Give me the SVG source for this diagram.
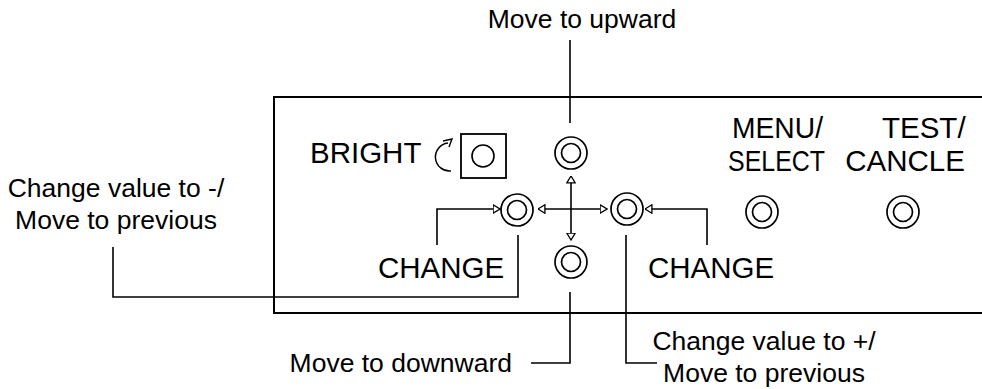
<svg xmlns="http://www.w3.org/2000/svg" width="982" height="389" viewBox="0 0 982 389">
<style>
.t{font-family:"Liberation Sans",Arial,sans-serif;fill:#000}
.m{font-size:26.5px}
.u{font-size:29.5px}
.ln{fill:none;stroke:#000;stroke-width:1.6}
.btn circle{fill:#fff;stroke:#000;stroke-width:1.7}
</style>
<defs>
<marker id="ah" viewBox="0 0 8 10" refX="7.5" refY="5" markerWidth="8" markerHeight="10" markerUnits="userSpaceOnUse" orient="auto-start-reverse">
<path d="M0.6,0.8 L7.5,5 L0.6,9.2 Z" fill="#fff" stroke="#000" stroke-width="1.3"/>
</marker>
</defs>
<rect width="982" height="389" fill="#fff"/>
<g id="panel">
<path d="M990 97 H274 V313 H990" fill="none" stroke="#000" stroke-width="2"/>
</g>
<g id="connectors">
<path class="ln" d="M570 40 V123"/>
<path class="ln" d="M113 247 V297 H518 V235"/>
<path class="ln" d="M570 292 V363 H531"/>
<path class="ln" d="M626 235 V363 H657"/>
<path class="ln" d="M571 176 V240" marker-start="url(#ah)" marker-end="url(#ah)"/>
<path class="ln" d="M538 209 H607" marker-start="url(#ah)" marker-end="url(#ah)"/>
<path class="ln" d="M437 245 V209 H500" marker-end="url(#ah)"/>
<path class="ln" d="M707 245 V209 H645" marker-end="url(#ah)"/>
</g>
<g id="btn-up" class="btn"><circle cx="571" cy="153" r="16"/><circle cx="571" cy="153" r="9.5"/></g>
<g id="btn-left" class="btn"><circle cx="517" cy="210" r="16"/><circle cx="517" cy="210" r="9.5"/></g>
<g id="btn-right" class="btn"><circle cx="627" cy="209" r="16"/><circle cx="627" cy="209" r="9.5"/></g>
<g id="btn-down" class="btn"><circle cx="571" cy="262" r="16"/><circle cx="571" cy="262" r="9.5"/></g>
<g id="btn-menu" class="btn"><circle cx="762" cy="212" r="16"/><circle cx="762" cy="212" r="9.5"/></g>
<g id="btn-test" class="btn"><circle cx="903" cy="212" r="16"/><circle cx="903" cy="212" r="9.5"/></g>
<g id="bright">
<text class="t u" x="310" y="163">BRIGHT</text>
<path d="M448 143 A14 14 0 0 0 451 171" fill="none" stroke="#000" stroke-width="1.5"/>
<path d="M443 141 L452 139 L449 147" fill="none" stroke="#000" stroke-width="1.4"/>
<rect x="461" y="134" width="45" height="44" fill="none" stroke="#000" stroke-width="1.8"/>
<circle cx="483" cy="156" r="11" fill="none" stroke="#000" stroke-width="1.6"/>
</g>
<g id="labels">
<text class="t m" x="582" y="28" text-anchor="middle">Move to upward</text>
<text class="t m" x="116" y="197" text-anchor="middle">Change value to -/</text>
<text class="t m" x="116" y="229" text-anchor="middle">Move to previous</text>
<text class="t u" x="378" y="278">CHANGE</text>
<text class="t u" x="648" y="278">CHANGE</text>
<text class="t m" x="512" y="372" text-anchor="end">Move to downward</text>
<text class="t m" x="764" y="350" text-anchor="middle">Change value to +/</text>
<text class="t m" x="764" y="382" text-anchor="middle">Move to previous</text>
<text class="t u" x="732" y="138" textLength="91" lengthAdjust="spacingAndGlyphs">MENU/</text>
<text class="t u" x="728" y="171" textLength="97" lengthAdjust="spacingAndGlyphs">SELECT</text>
<text class="t u" x="882" y="138">TEST/</text>
<text class="t u" x="905" y="171" text-anchor="middle">CANCLE</text>
</g>
</svg>
